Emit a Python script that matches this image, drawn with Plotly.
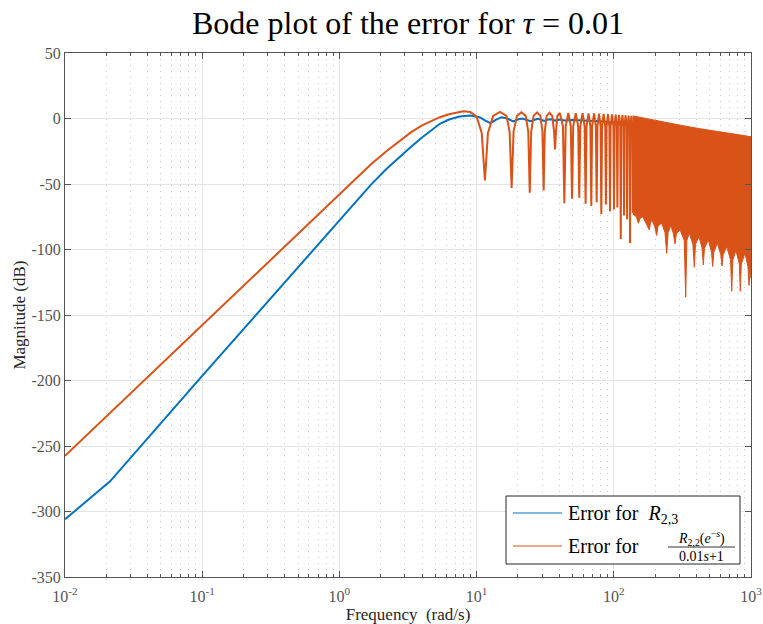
import plotly.graph_objects as go

# ---------------- data ----------------
# Error for R_{2,3}  (frequency rad/s, magnitude dB)
blue_w = [0.01, 0.0213, 0.1, 1, 1.3, 1.7, 2.2, 2.7, 3.3, 4, 4.7, 5.4, 6.3, 7.5, 9, 10.5,
          11.5, 12.6, 13.8, 15.2, 16.8, 18.5, 20, 21.5, 23, 24.8, 26.5, 28, 29.6, 31,
          32.6, 34.3, 36, 37.4, 40.6, 43.7, 50, 60, 80, 100, 150, 200, 300, 500, 1000]
blue_db = [-306, -277, -196.5, -77.5, -64, -50.5, -38.5, -30, -22, -14.5, -8.5, -4, -0.8, 1.5, 2.3, 1,
           -1.5, -3.6, -1, 1, 0, -2.3, -0.8, 0, -1, -2, -1, -0.3, -1, -1.8,
           -1, -0.6, -1, -1.6, -0.8, -1.5, -1.2, -1.4, -2.1, -3, -5.2, -7, -10, -14.1, -20]

# Error for R_{2,2}(e^{-s})/(0.01s+1): resolved part (notches visible one by one)
orange_w = [0.01, 0.1, 1, 1.3, 1.7, 2.2, 2.7, 3.3, 4, 4.7, 5.4, 6.3, 7.2, 8, 9, 10, 10.9, 11.5,
            12.1, 13.2, 14.8,
            16.5, 17.4, 18.0, 18.6, 19.7, 21.2, 22.8, 23.8, 24.4, 25.0, 26.0, 27.6,
            29.2, 30.2, 30.8, 31.4, 32.4, 34.0, 35.6, 36.7, 37.3, 37.9, 38.8, 40.4,
            42.6, 43.6, 44.6, 46.6, 48.6, 49.6, 50.6, 52.8, 55.0, 56.0, 57.0, 59.2,
            61.3, 62.3, 63.3, 65.4, 67.5, 68.5, 69.5, 71.8, 74.0, 75.0, 76.0, 78.0,
            80.1, 81.1, 82.1, 84.3, 86.6, 87.6, 88.6, 90.7, 92.8, 93.8, 94.8, 97.0,
            99.3, 100.3, 101.3, 103.2, 105.2, 106.2, 107.2, 109.3, 111.4, 112.4, 113.4,
            115.6, 117.7, 118.7, 119.7, 121.8, 124.0, 125.0, 126.0, 128.2, 130.3,
            131.3, 132.3, 134.5, 136.6, 137.6]
orange_db = [-257.5, -157.5, -57.5, -46.2, -35, -25, -17.5, -10.8, -5.2, -1.6, 1, 3.3, 4.8, 5.6, 5.0, 1.5,
             -11, -47.3, -11, 2, 5,
             2, -10, -53, -10, 2, 4.8, 2, -10, -56.7, -10, 2, 4.6,
             2, -10, -55, -10, 2, 4.4, 2, -10, -23.7, -10, 2, 4.3,
             -6, -64.6, -6, 4.2, -6, -61.3, -6, 4.1, -6, -60.5, -6, 4.0,
             -6, -65, -6, 3.9, -6, -66.7, -6, 3.8, -6, -64, -6, 3.7,
             -6, -73, -6, 3.6, -6, -65.6, -6, 3.4, -6, -70.8, -6, 3.2,
             -6, -69.5, -6, 3.0, -6, -68, -6, 2.8, -6, -92, -6,
             2.6, -6, -74, -6, 2.4, -6, -77, -6, 2.2, -6,
             -95, -6, 2.0, -6, -72]

# dense part (138 - 1000 rad/s): upper and lower edges of the solid band
dense_top_w = [137.6, 150, 183, 250, 320, 425, 600, 800, 1000]
dense_top_db = [2.0, 1.2, -0.8, -3.2, -5.5, -7.8, -10.5, -12.3, -13.9]
dense_low_w = [137.6, 146, 151, 156, 162.4, 170, 181.4, 185, 188.9, 198, 205.5, 210, 223.4,
               236, 243, 249, 259.8, 272, 279.3, 286, 303.8, 326, 334.3, 341, 355, 377,
               386.2, 394, 417.8, 440, 449.1, 458, 488.5, 515, 525.8, 536, 568.1, 602,
               614.7, 627, 665.2, 710, 723.4, 737, 777.5, 822, 835.6, 850, 904.4, 950,
               967, 985, 1000]
dense_low_db = [-72.8, -75, -80, -76, -75, -79, -85, -80, -77.4, -82, -89.3, -82, -79.9,
                -87, -103, -87, -81.7, -88, -95.7, -88, -85, -93, -136.4, -93, -87.5, -96,
                -113.5, -96, -90, -99, -111.7, -99, -92.6, -102, -113, -102, -95.2, -104,
                -112.5, -104, -97.7, -108, -131.8, -108, -100.8, -111, -131.8, -111, -102.8, -113,
                -127.5, -114, -122]

x_tick_vals = [0.01, 0.1, 1, 10, 100, 1000]
x_tick_labels = ["10<sup>-2</sup>", "10<sup>-1</sup>", "10<sup>0</sup>",
                 "10<sup>1</sup>", "10<sup>2</sup>", "10<sup>3</sup>"]
y_tick_vals = [-350, -300, -250, -200, -150, -100, -50, 0, 50]
y_tick_labels = ["-350", "-300", "-250", "-200", "-150", "-100", "-50", "0", "50"]

title_text = "Bode plot of the error for <i>τ</i> = 0.01"
x_title = "Frequency  (rad/s)"
y_title = "Magnitude (dB)"
legend_labels = ["Error for  <i>R</i><sub>2,3</sub>", "Error for"]
frac_num = "<i>R</i><sub>2,2</sub>(<i>e</i><sup>−<i>s</i></sup>)"
frac_den = "0.01<i>s</i>+1"

BLUE = "#0072BD"
ORANGE = "#D95319"
AX = "#555555"
FONT = "Liberation Serif"

# ---------------- figure ----------------
W, H = 763, 624
L, R, T, B = 65, 751, 53, 577


def px(x):
    return (x - L) / (R - L)


def py(y):
    return (B - y) / (B - T)


fig = go.Figure()
fig.add_trace(go.Scatter(x=blue_w, y=blue_db, mode="lines",
                         line=dict(color=BLUE, width=2), showlegend=False))
fig.add_trace(go.Scatter(x=dense_top_w + dense_low_w[::-1],
                         y=dense_top_db + dense_low_db[::-1],
                         mode="lines", fill="toself", fillcolor=ORANGE,
                         line=dict(color=ORANGE, width=1), showlegend=False))
fig.add_trace(go.Scatter(x=orange_w, y=orange_db, mode="lines",
                         line=dict(color=ORANGE, width=2), showlegend=False))

minor_vals = [m * 10 ** e for e in range(-2, 3) for m in range(2, 10)]

fig.update_layout(
    width=W, height=H,
    margin=dict(l=L, r=W - R, t=T, b=H - B),
    paper_bgcolor="white", plot_bgcolor="white",
    font=dict(family=FONT, color="#262626"),
    title=dict(text=title_text, x=0.5, xref="paper", xanchor="center",
               y=1 - 23 / H, yref="container", yanchor="middle",
               font=dict(size=32, color="black", family=FONT)),
    showlegend=False,
)

fig.update_xaxes(
    type="log", range=[-2, 3], automargin=False,
    tickmode="array", tickvals=x_tick_vals, ticktext=x_tick_labels,
    ticks="inside", ticklen=6, tickcolor=AX, tickwidth=1,
    showline=True, linecolor=AX, linewidth=1, mirror="allticks",
    showgrid=True, gridcolor="#e4e4e4", gridwidth=1, zeroline=False,
    tickfont=dict(size=16, color=AX, family=FONT), ticklabelstandoff=5,
    minor=dict(tickmode="array", tickvals=minor_vals, ticks="inside", ticklen=3,
               tickcolor=AX, showgrid=True, gridcolor="#c8c8c8",
               griddash="1px,5px", gridwidth=1),
    title=dict(text=x_title, font=dict(size=17, color="#262626", family=FONT), standoff=6),
)
fig.update_yaxes(
    range=[-350, 50], automargin=False,
    tickmode="array", tickvals=y_tick_vals, ticktext=y_tick_labels,
    ticks="inside", ticklen=6, tickcolor=AX, tickwidth=1,
    showline=True, linecolor=AX, linewidth=1, mirror="allticks",
    showgrid=True, gridcolor="#e4e4e4", gridwidth=1, zeroline=False,
    tickfont=dict(size=16, color=AX, family=FONT),
    title=dict(text=y_title, font=dict(size=17, color="#262626", family=FONT), standoff=1),
)

# custom legend (box, line samples, text)
shapes = [
    dict(type="rect", xref="paper", yref="paper", x0=px(506), x1=px(740),
         y0=py(564), y1=py(496), line=dict(color="#262626", width=1),
         fillcolor="white", layer="above"),
    dict(type="line", xref="paper", yref="paper", x0=px(513), x1=px(562),
         y0=py(513), y1=py(513), line=dict(color=BLUE, width=1.2), layer="above"),
    dict(type="line", xref="paper", yref="paper", x0=px(513), x1=px(562),
         y0=py(546), y1=py(546), line=dict(color=ORANGE, width=1.2), layer="above"),
    dict(type="line", xref="paper", yref="paper", x0=px(668), x1=px(735),
         y0=py(547), y1=py(547), line=dict(color="black", width=0.8), layer="above"),
]
annotations = [
    dict(text=legend_labels[0], xref="paper", yref="paper", x=px(566), y=py(514),
         xanchor="left", yanchor="middle", showarrow=False,
         font=dict(size=20, color="black", family=FONT)),
    dict(text=legend_labels[1], xref="paper", yref="paper", x=px(566), y=py(546),
         xanchor="left", yanchor="middle", showarrow=False,
         font=dict(size=20, color="black", family=FONT)),
    dict(text=frac_num, xref="paper", yref="paper", x=px(701), y=py(538),
         xanchor="center", yanchor="middle", showarrow=False,
         font=dict(size=14, color="black", family=FONT)),
    dict(text=frac_den, xref="paper", yref="paper", x=px(701), y=py(556),
         xanchor="center", yanchor="middle", showarrow=False,
         font=dict(size=14, color="black", family=FONT)),
]
fig.update_layout(shapes=shapes, annotations=annotations)

fig.write_html("out.html", config={"displayModeBar": False},
               post_script="document.body.style.margin='0px';")
